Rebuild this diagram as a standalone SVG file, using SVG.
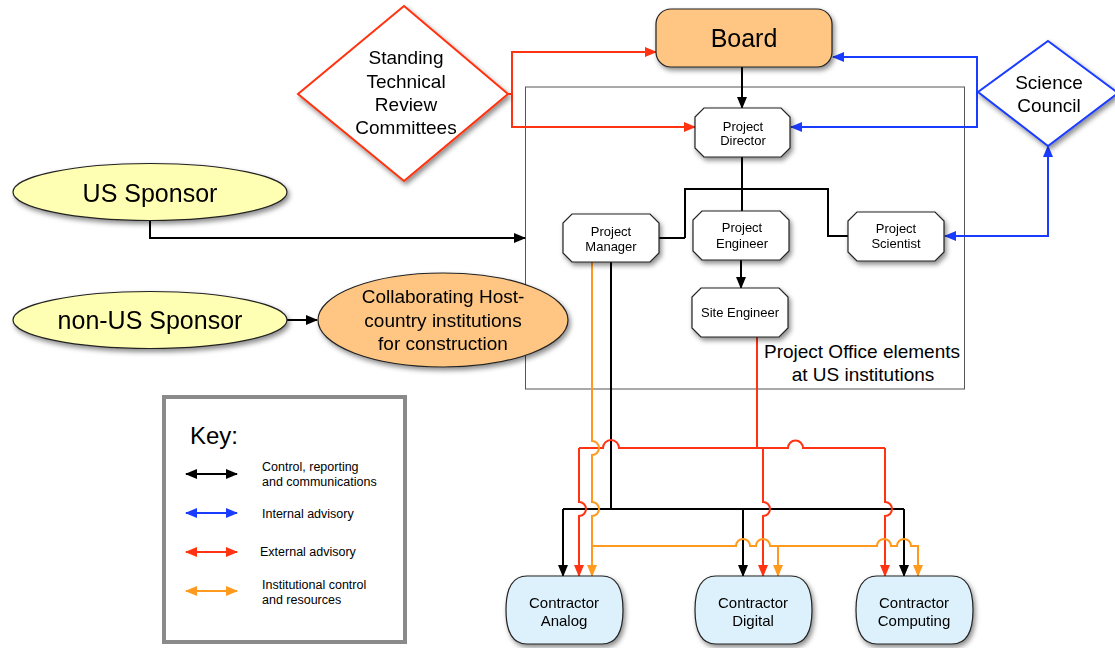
<svg xmlns="http://www.w3.org/2000/svg" width="1115" height="648" viewBox="0 0 1115 648">
<style>
text{font-family:"Liberation Sans",Arial,sans-serif;fill:#000;text-anchor:middle}
.k{fill:none;stroke:#000;stroke-width:2}
.b{fill:none;stroke:#1a3cff;stroke-width:2}
.r{fill:none;stroke:#ff3311;stroke-width:2}
.o{fill:none;stroke:#ff9a1f;stroke-width:2}
.oct{fill:#fff;stroke:#222;stroke-width:1.2}
.con{fill:#dcf1fc;stroke:#222;stroke-width:1.2}
.s{font-size:13px}
.m{font-size:19px}
.l{font-size:25px}
.c{font-size:15px}
.kl{font-size:12.5px;text-anchor:start}
</style>
<defs>
<filter id="sh" x="-20%" y="-20%" width="140%" height="150%">
<feDropShadow dx="2" dy="3" stdDeviation="2.5" flood-color="#000" flood-opacity="0.45"/>
</filter>
<marker id="aK" markerUnits="userSpaceOnUse" markerWidth="12" markerHeight="10" refX="11" refY="5" orient="auto-start-reverse"><path d="M0,0L12,5L0,10z" fill="#000"/></marker>
<marker id="aB" markerUnits="userSpaceOnUse" markerWidth="12" markerHeight="10" refX="11" refY="5" orient="auto-start-reverse"><path d="M0,0L12,5L0,10z" fill="#1a3cff"/></marker>
<marker id="aR" markerUnits="userSpaceOnUse" markerWidth="12" markerHeight="10" refX="11" refY="5" orient="auto-start-reverse"><path d="M0,0L12,5L0,10z" fill="#ff3311"/></marker>
<marker id="aO" markerUnits="userSpaceOnUse" markerWidth="12" markerHeight="10" refX="11" refY="5" orient="auto-start-reverse"><path d="M0,0L12,5L0,10z" fill="#ff9a1f"/></marker>
</defs>
<rect width="1115" height="648" fill="#fff"/>

<g id="project-office">
<rect x="525.5" y="87" width="439" height="302" fill="none" stroke="#555" stroke-width="1"/>
<text class="m" x="862" y="358">Project Office elements</text>
<text class="m" x="863" y="381">at US institutions</text>
</g>

<g id="connectors">
<!-- black -->
<path class="k" d="M742,67V108" marker-end="url(#aK)"/>
<path class="k" d="M742,157V189M685,238V189H828V236H848M742,189V211M685,238H659"/>
<path class="k" d="M741,260V288" marker-end="url(#aK)"/>
<path class="k" d="M150,221V238H525" marker-end="url(#aK)"/>
<path class="k" d="M287,320H317" marker-end="url(#aK)"/>
<path class="k" d="M611,262V509"/>
<path class="k" d="M563,509H904"/>
<path class="k" d="M563,509V576" marker-end="url(#aK)"/>
<path class="k" d="M743,509V576" marker-end="url(#aK)"/>
<path class="k" d="M904,509V576" marker-end="url(#aK)"/>
<!-- blue -->
<path class="b" d="M978,92H977V57H833" marker-end="url(#aB)"/>
<path class="b" d="M977,92V127H791" marker-end="url(#aB)"/>
<path class="b" d="M1048,146V236H945" marker-start="url(#aB)" marker-end="url(#aB)"/>
<!-- red -->
<path class="r" d="M508,94H512V52H656" marker-end="url(#aR)"/>
<path class="r" d="M512,94V127H695" marker-end="url(#aR)"/>
<path class="r" d="M757,337V448"/>
<path class="r" d="M579,448H603A8,8 0 0 1 619,448H788A7.5,7.5 0 0 1 803,448H885"/>
<path class="r" d="M579,448V502A7,7 0 0 1 579,516V576" marker-end="url(#aR)"/>
<path class="r" d="M763,448V502A7,7 0 0 1 763,516V576" marker-end="url(#aR)"/>
<path class="r" d="M885,448V502A7,7 0 0 1 885,516V576" marker-end="url(#aR)"/>
<!-- orange -->
<path class="o" d="M592,262V441A7,7 0 0 1 592,455V502A7,7 0 0 1 592,516V576" marker-end="url(#aO)"/>
<path class="o" d="M592,546H736A7,7 0 0 1 750,546H756A7,7 0 0 1 770,546H877A7,7 0 0 1 891,546H897A7,7 0 0 1 911,546H918V576" marker-end="url(#aO)"/>
<path class="o" d="M778,546V576" marker-end="url(#aO)"/>
</g>

<g id="board" filter="url(#sh)">
<rect x="656" y="9" width="176" height="58" rx="15" fill="#fec682" stroke="#222" stroke-width="1.2"/>
<text class="l" x="744" y="47">Board</text>
</g>

<g id="strc" filter="url(#sh)">
<polygon points="404,6 508,94 404,181 298,94" fill="#fff" stroke="#ff3311" stroke-width="2"/>
<text class="m" x="406" y="64">Standing</text>
<text class="m" x="406" y="88">Technical</text>
<text class="m" x="406" y="111">Review</text>
<text class="m" x="406" y="134">Committees</text>
</g>

<g id="science-council" filter="url(#sh)">
<polygon points="1048,41 1118,93 1048,146 978,92" fill="#fff" stroke="#1a3cff" stroke-width="2"/>
<text class="m" x="1049" y="89">Science</text>
<text class="m" x="1049" y="112">Council</text>
</g>

<g id="project-director" filter="url(#sh)">
<path class="oct" d="M704,108H781L790,117V148L781,157H704L695,148V117Z"/>
<text class="s" x="743" y="131">Project</text>
<text class="s" x="743" y="145">Director</text>
</g>

<g id="project-manager" filter="url(#sh)">
<path class="oct" d="M572,214H650L659,223V253L650,262H572L563,253V223Z"/>
<text class="s" x="611" y="236">Project</text>
<text class="s" x="611" y="251">Manager</text>
</g>

<g id="project-engineer" filter="url(#sh)">
<path class="oct" d="M702,211H780L789,220V251L780,260H702L693,251V220Z"/>
<text class="s" x="742" y="232">Project</text>
<text class="s" x="742" y="248">Engineer</text>
</g>

<g id="project-scientist" filter="url(#sh)">
<path class="oct" d="M857,212H935L944,221V252L935,261H857L848,252V221Z"/>
<text class="s" x="896" y="233">Project</text>
<text class="s" x="896" y="248">Scientist</text>
</g>

<g id="site-engineer" filter="url(#sh)">
<path class="oct" d="M701,288H779L788,297V328L779,337H701L692,328V297Z"/>
<text class="s" x="740" y="317">Site Engineer</text>
</g>

<g id="us-sponsor" filter="url(#sh)">
<ellipse cx="150" cy="192" rx="137" ry="28.5" fill="#ffffb3" stroke="#222" stroke-width="1.2"/>
<text class="l" x="150" y="202">US Sponsor</text>
</g>

<g id="non-us-sponsor" filter="url(#sh)">
<ellipse cx="150" cy="320" rx="137" ry="28.5" fill="#ffffb3" stroke="#222" stroke-width="1.2"/>
<text class="l" x="150" y="329">non-US Sponsor</text>
</g>

<g id="collaborating" filter="url(#sh)">
<ellipse cx="443" cy="320" rx="125" ry="47" fill="#fec682" stroke="#222" stroke-width="1.2"/>
<text class="m" x="443" y="303">Collaborating Host-</text>
<text class="m" x="443" y="327">country institutions</text>
<text class="m" x="443" y="350">for construction</text>
</g>

<g id="contractor-analog" filter="url(#sh)">
<path class="con" d="M527,576H602C618,576 623,592 623,610C623,628 618,644 602,644H527C511,644 506,628 506,610C506,592 511,576 527,576Z"/>
<text class="c" x="564" y="608">Contractor</text>
<text class="c" x="564" y="626">Analog</text>
</g>

<g id="contractor-digital" filter="url(#sh)">
<path class="con" d="M716,576H791C807,576 812,592 812,610C812,628 807,644 791,644H716C700,644 695,628 695,610C695,592 700,576 716,576Z"/>
<text class="c" x="753" y="608">Contractor</text>
<text class="c" x="753" y="626">Digital</text>
</g>

<g id="contractor-computing" filter="url(#sh)">
<path class="con" d="M877,576H952C968,576 973,592 973,610C973,628 968,644 952,644H877C861,644 856,628 856,610C856,592 861,576 877,576Z"/>
<text class="c" x="914" y="608">Contractor</text>
<text class="c" x="914" y="626">Computing</text>
</g>

<g id="key">
<rect x="164" y="397" width="241" height="245" fill="#fff" stroke="#8a8a8a" stroke-width="4"/>
<text x="190" y="444" style="font-size:24px;text-anchor:start">Key:</text>
<path class="k" d="M186,474H237" marker-start="url(#aK)" marker-end="url(#aK)"/>
<path class="b" d="M186,513H237" marker-start="url(#aB)" marker-end="url(#aB)"/>
<path class="r" d="M186,552H237" marker-start="url(#aR)" marker-end="url(#aR)"/>
<path class="o" d="M186,591H237" marker-start="url(#aO)" marker-end="url(#aO)"/>
<text class="kl" x="262" y="471">Control, reporting</text>
<text class="kl" x="262" y="486">and communications</text>
<text class="kl" x="262" y="518">Internal advisory</text>
<text class="kl" x="260" y="556">External advisory</text>
<text class="kl" x="262" y="589">Institutional control</text>
<text class="kl" x="262" y="604">and resources</text>
</g>
</svg>
